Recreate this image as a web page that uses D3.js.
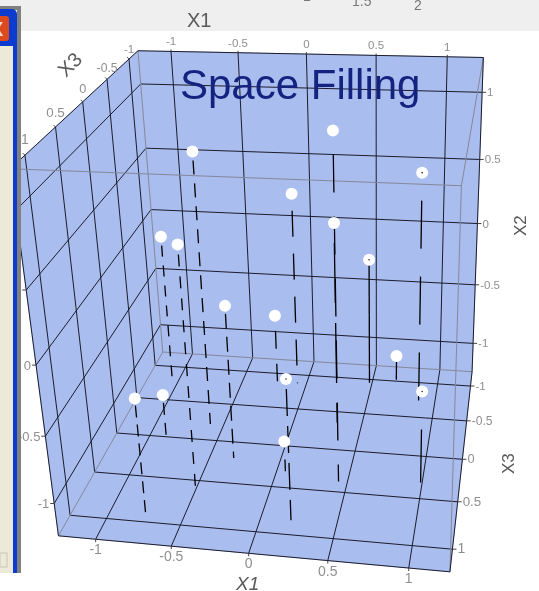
<!DOCTYPE html>
<html>
<head>
<meta charset="utf-8">
<script src="https://cdn.jsdelivr.net/npm/d3@7"></script>
<style>
  body { margin: 0; background: #fff; }
  svg { display: block; font-family: "Liberation Sans", Arial, sans-serif; filter: blur(0.4px); }
</style>
</head>
<body>
<svg id="chart" width="539" height="591"></svg>
<script>
// values
const x1Values = [-0.60, 0.44, 0.89, -0.07, 0.32, -1.05, -0.49, 0.48, -0.33, -0.23, 0.68, 0.20, -0.75, -0.86, 0.99, 0.06];
const x2Values = [0.86, 1.24, 0.62, 0.32, 0.33, -0.03, 0.57, -0.21, -0.06, -0.68, -1.04, -0.20, -0.36, -0.87, -0.54, -1.01];
const x3Values = [-0.21, 0.38, -0.60, -0.87, -0.35, -0.79, 0.64, -0.95, 0.20, -0.88, -1.02, 0.85, 0.94, 0.05, 0.32, 0.31];

const tickValues = [-1, -0.5, 0, 0.5, 1];
const x2TickValues = [1, 0.5, 0, -0.5, -1];

const x1Limits = [-1.25, 1.25];
const x2Limits = [-1.25, 1.25];
const x3Limits = [-1.22, 1.22];

// dash / gap of each drop line, same order as the values (0 = solid)
const stemDash = [[14, 9], [38, 24], [48, 28], [26, 17], [60, 20], [11, 9], [12, 10], [0, 0], [15, 8], [18, 15], [0, 0], [27, 10], [12, 7], [12, 8], [53, 38], [12, 18]];
const tinyDot = [2, 7, 11, 14];

const x1Scale = d3.scaleLinear().domain(x1Limits).range([0, 1]);
const x2Scale = d3.scaleLinear().domain(x2Limits).range([0, 1]);
const x3Scale = d3.scaleLinear().domain(x3Limits).range([0, 1]);

// camera: where box corners and axis ticks sit on screen, fitted by least squares
const [xa, xb] = x1Limits, [ya, yb] = x2Limits, [za, zb] = x3Limits;
const anchors = [
  [xa, ya, za, 163, 352], [xb, ya, za, 472, 372], [xa, yb, za, 138, 52], [xb, yb, za, 484, 58],
  [xa, ya, zb, 58, 536], [xb, ya, zb, 450, 572], [xb, yb, zb, 461, 185],
  [-1, yb, za, 171, 52], [-0.5, yb, za, 238, 52], [0, yb, za, 306, 53], [0.5, yb, za, 376, 54], [1, yb, za, 447, 57],
  [xb, 1, za, 482, 93], [xb, 0.5, za, 480, 160], [xb, 0, za, 477, 224], [xb, -0.5, za, 475, 285], [xb, -1, za, 473, 343],
  [xb, ya, -1, 470, 387], [xb, ya, -0.5, 467, 421], [xb, ya, 0, 463, 459], [xb, ya, 0.5, 458, 500], [xb, ya, 1, 453, 547],
  [-1, ya, zb, 96, 538], [-0.5, ya, zb, 172, 546], [0, ya, zb, 248, 554], [0.5, ya, zb, 328, 564], [1, ya, zb, 408, 568],
  [xa, yb, -1, 129, 59], [xa, yb, -0.5, 107, 77], [xa, yb, 0, 83, 102], [xa, yb, 0.5, 56, 127], [xa, yb, 1, 26, 158],
  [xa, 0.5, zb, 25, 290], [xa, 0, zb, 36, 365], [xa, -0.5, zb, 45, 436], [xa, -1, zb, 54, 503]
];

const fitCamera = rows => {
  const A = [], b = [];
  rows.forEach(([x1, x2, x3, u, v]) => {
    const x = x1Scale(x1), y = x2Scale(x2), z = x3Scale(x3);
    A.push([x, y, z, 1, 0, 0, 0, 0, -u * x, -u * y, -u * z]); b.push(u);
    A.push([0, 0, 0, 0, x, y, z, 1, -v * x, -v * y, -v * z]); b.push(v);
  });
  const n = 11;
  const M = d3.range(n).map(i => {
    const r = new Array(n + 1).fill(0);
    A.forEach((a, k) => {
      for (let j = 0; j < n; j++) r[j] += a[i] * a[j];
      r[n] += a[i] * b[k];
    });
    return r;
  });
  for (let i = 0; i < n; i++) {
    let p = i;
    for (let k = i; k < n; k++) if (Math.abs(M[k][i]) > Math.abs(M[p][i])) p = k;
    [M[i], M[p]] = [M[p], M[i]];
    for (let k = 0; k < n; k++) {
      if (k === i) continue;
      const f = M[k][i] / M[i][i];
      for (let j = i; j <= n; j++) M[k][j] -= f * M[i][j];
    }
  }
  return M.map((r, i) => r[n] / r[i]);
};
const m = fitCamera(anchors);

const project = (x1, x2, x3) => {
  const x = x1Scale(x1), y = x2Scale(x2), z = x3Scale(x3);
  const w = m[8] * x + m[9] * y + m[10] * z + 1;
  return [(m[0] * x + m[1] * y + m[2] * z + m[3]) / w, (m[4] * x + m[5] * y + m[6] * z + m[7]) / w];
};

const svg = d3.select('#chart');
const line = d3.line();
const path = (g, a, b, cls) => g.append('path').attr('d', line([project(...a), project(...b)]))
  .attr('fill', 'none').attr('stroke', cls.stroke).attr('stroke-width', cls.width);

const gridStyle = {stroke: '#1c1c2a', width: 1};
const edgeStyle = {stroke: '#85889a', width: 1};
const outlineStyle = {stroke: '#1c1c2a', width: 1};

// walls
const walls = [
  [[xa, ya, za], [xb, ya, za], [xb, yb, za], [xa, yb, za]],
  [[xa, ya, za], [xb, ya, za], [xb, ya, zb], [xa, ya, zb]],
  [[xa, ya, za], [xa, yb, za], [xa, yb, zb], [xa, ya, zb]]
];
svg.append('g').selectAll('path').data(walls).join('path')
  .attr('d', d => line(d.map(c => project(...c))) + 'Z')
  .attr('fill', '#a9bdef').attr('stroke', '#a9bdef');

// grid on the three walls
const grid = svg.append('g');
tickValues.forEach(t => {
  path(grid, [t, ya, za], [t, yb, za], gridStyle);
  path(grid, [t, ya, za], [t, ya, zb], gridStyle);
  path(grid, [xa, t, za], [xb, t, za], gridStyle);
  path(grid, [xa, t, za], [xa, t, zb], gridStyle);
  path(grid, [xa, ya, t], [xb, ya, t], gridStyle);
  path(grid, [xa, ya, t], [xa, yb, t], gridStyle);
});

// box edges
const edges = svg.append('g');
[[[xa, ya, za], [xa, yb, za]], [[xa, ya, za], [xa, ya, zb]], [[xa, ya, za], [xb, ya, za]],
 [[xb, yb, zb], [xb, yb, za]], [[xb, yb, zb], [xb, ya, zb]], [[xb, yb, zb], [xa, yb, zb]]]
  .forEach(([a, b]) => path(edges, a, b, edgeStyle));
[[[xa, yb, za], [xb, yb, za]], [[xa, yb, za], [xa, yb, zb]], [[xa, ya, zb], [xb, ya, zb]],
 [[xa, yb, zb], [xa, ya, zb]], [[xb, yb, za], [xb, ya, za]], [[xb, ya, za], [xb, ya, zb]]]
  .forEach(([a, b]) => path(edges, a, b, outlineStyle));

// ticks and tick labels, the text grows toward the viewer
const labels = svg.append('g').attr('fill', '#8f8f8f');
const tickLabel = (p, dx, dy, lx, ly, anchor, t, size) => {
  labels.append('path').attr('d', line([p, [p[0] + dx, p[1] + dy]])).attr('stroke', '#444').attr('fill', 'none');
  labels.append('text').attr('x', p[0] + lx).attr('y', p[1] + ly)
    .attr('text-anchor', anchor).attr('font-size', size).text(t);
};
const depthSize = d3.scaleLinear().domain([-1, 1]).range([11.5, 14]);
tickValues.forEach(t => {
  tickLabel(project(t, yb, za), 0, -2, 0, -6, 'middle', String(t), 11.5);
  tickLabel(project(t, ya, zb), 0, 3, 0, 15, 'middle', String(t), 14);
  tickLabel(project(xa, yb, t), -2, -2, 0, -8.5 - 2.5 * t, 'middle', String(t), depthSize(t));
  tickLabel(project(xb, ya, t), 4, 0, 5, 4, 'start', String(t), depthSize(t));
});
x2TickValues.forEach(t => {
  tickLabel(project(xb, t, za), 4, 0, 5, 4, 'start', String(t), 11.5);
  tickLabel(project(xa, t, zb), -4, 0, -5, 4.5, 'end', String(t), 13);
});

// drop lines
const stems = svg.append('g');
x1Values.forEach((v, i) => {
  const top = project(v, x2Values[i], x3Values[i]);
  const foot = project(v, ya, x3Values[i]);
  const [dash, gap] = stemDash[i];
  stems.append('path').attr('d', line([top, foot]))
    .attr('fill', 'none').attr('stroke', '#000').attr('stroke-width', 1.3)
    .attr('stroke-dasharray', dash ? `${dash} ${gap}` : null)
    .attr('stroke-dashoffset', dash || null);
});

// points
svg.append('g').selectAll('circle').data(x1Values).join('circle')
  .attr('cx', (d, i) => project(d, x2Values[i], x3Values[i])[0])
  .attr('cy', (d, i) => project(d, x2Values[i], x3Values[i])[1])
  .attr('r', 6).attr('fill', '#fff');
svg.append('g').selectAll('circle').data(tinyDot).join('circle')
  .attr('cx', i => project(x1Values[i], x2Values[i], x3Values[i])[0])
  .attr('cy', i => project(x1Values[i], x2Values[i], x3Values[i])[1])
  .attr('r', 0.8).attr('fill', '#222');

// title
svg.append('text').attr('x', 180).attr('y', 99).attr('font-size', 42).attr('fill', '#14237f').text('Space Filling');

// window around the plot
const frame = svg.append('g');
frame.append('rect').attr('x', 21).attr('y', 0).attr('width', 518).attr('height', 31).attr('fill', '#efefef');
frame.append('rect').attr('x', 0).attr('y', 0).attr('width', 21).attr('height', 6).attr('fill', '#efefef');
frame.append('rect').attr('x', 17).attr('y', 6).attr('width', 4).attr('height', 567).attr('fill', '#808080');
frame.append('rect').attr('x', 0).attr('y', 6).attr('width', 17).attr('height', 4).attr('fill', '#808080');
frame.append('rect').attr('x', -6).attr('y', 9).attr('width', 23).attr('height', 40).attr('rx', 5).attr('fill', '#0b3ccf');
frame.append('rect').attr('x', 0).attr('y', 30).attr('width', 17).attr('height', 543).attr('fill', '#0b3ccf');
frame.append('rect').attr('x', 0).attr('y', 46).attr('width', 13).attr('height', 527).attr('fill', '#ece9d8');
frame.append('rect').attr('x', 0).attr('y', 553).attr('width', 7).attr('height', 14).attr('fill', '#ece9d8').attr('stroke', '#c9c7b8');
frame.append('rect').attr('x', -4).attr('y', 16).attr('width', 13).attr('height', 25).attr('rx', 3).attr('fill', '#dc4a1e');
frame.append('text').attr('x', -10).attr('y', 36).attr('font-size', 20).attr('font-weight', 'bold').attr('fill', '#f4d8c8').text('X');

// axis titles
const titles = svg.append('g').attr('fill', '#5a5a5a');
titles.append('text').attr('x', 187).attr('y', 27).attr('font-size', 20).text('X1');
titles.append('text').attr('x', 236).attr('y', 590).attr('font-size', 19).attr('font-style', 'italic').text('X1');
titles.append('text').attr('transform', 'translate(526,236) rotate(-90)').attr('font-size', 17).text('X2');
titles.append('text').attr('transform', 'translate(514,474) rotate(-90)').attr('font-size', 17).text('X3');
titles.append('text').attr('transform', 'translate(66,78) rotate(-45)').attr('font-size', 20).text('X3');

// scale labels of the chart above, cut by the edge of the picture
const cut = svg.append('g').attr('fill', '#777').attr('font-size', 14);
cut.append('text').attr('x', 352).attr('y', 6).text('1.5');
cut.append('text').attr('x', 414).attr('y', 10).text('2');
cut.append('text').attr('x', 303).attr('y', 1).text('1');
</script>
</body>
</html>
